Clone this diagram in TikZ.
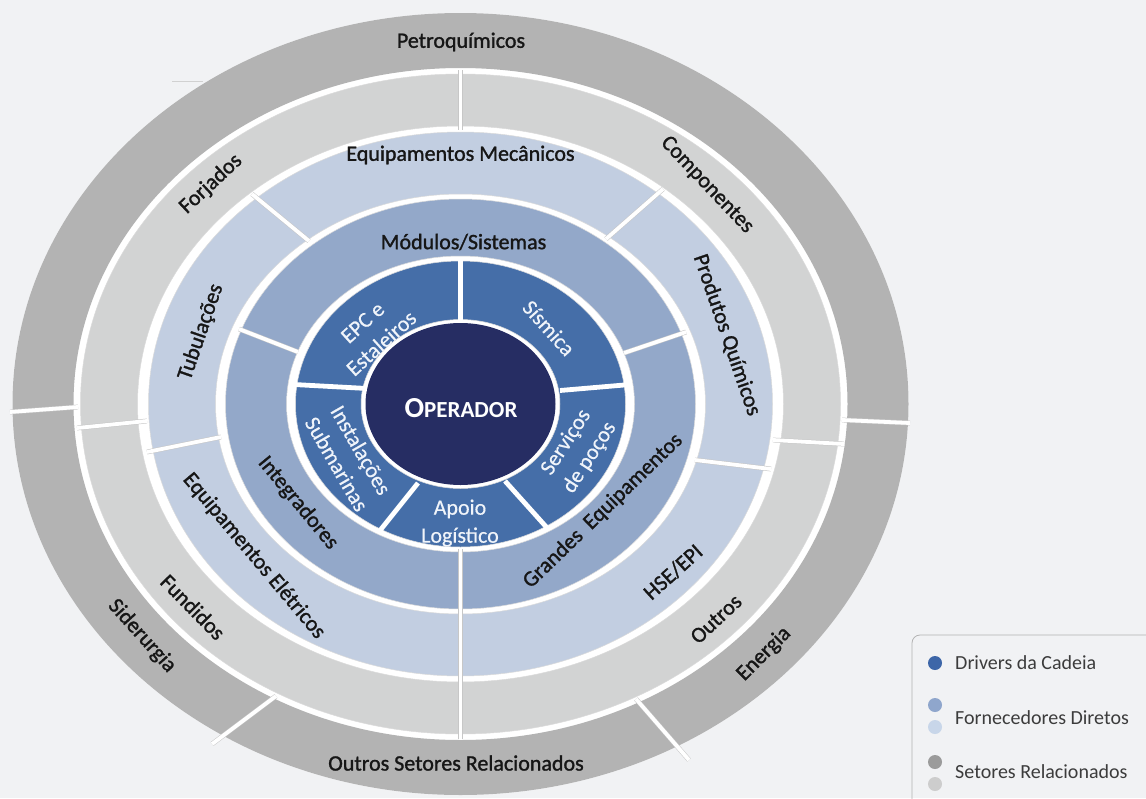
\documentclass[tikz,border=0pt]{standalone}
\usepackage{fontspec}
\setmainfont{Carlito}
\newfontfamily\lblfont[FakeBold=1.3]{Carlito}
\newfontfamily\wlblfont[FakeBold=0.4]{Carlito}
\definecolor{bg}{RGB}{241,242,244}
\definecolor{sdark}{RGB}{179,179,179}
\definecolor{slight}{RGB}{210,211,211}
\definecolor{flight}{RGB}{194,206,225}
\definecolor{fmed}{RGB}{147,168,201}
\definecolor{drv}{RGB}{69,110,168}
\definecolor{op}{RGB}{38,45,99}
\definecolor{txt}{RGB}{22,22,22}
\definecolor{wtxt}{RGB}{240,244,250}
\definecolor{legtxt}{RGB}{60,60,60}
\definecolor{ldrv}{RGB}{61,102,168}
\definecolor{lmed}{RGB}{143,166,204}
\definecolor{llight}{RGB}{200,214,233}
\definecolor{ldark}{RGB}{155,155,155}
\definecolor{lgray}{RGB}{205,205,205}
\begin{document}
\begin{tikzpicture}[x=1pt,y=-1pt,
  ringfill/.style={fill=#1, even odd rule},
  ringedge/.style={draw=black!14, line width=0.5pt},
  divider/.style={draw=black!22, line width=0.5pt, double=white, double distance=3.8pt},
  innerdiv/.style={draw=white, line width=4.8pt},
  lab/.style={font=\lblfont\fontsize{22}{25}\selectfont, text=txt, inner sep=0pt, align=center},
  wlab/.style={font=\wlblfont\fontsize{22}{28}\selectfont, text=wtxt, inner sep=0pt, align=center},
  leg/.style={font=\fontsize{20}{22}\selectfont, text=legtxt, anchor=west, inner sep=0pt},
  legdot/.style={circle, minimum size=14pt, inner sep=0pt, fill=#1}
]
\useasboundingbox (0,0) rectangle (1146,798);
\clip (0,0) rectangle (1146,798);
\fill[bg] (0,0) rectangle (1146,798);
\coordinate (C) at (460.5,404);
% white base
\fill[white] (C) ellipse [x radius=448pt, y radius=391pt];
% rings
\fill[ringfill=sdark] (C) ellipse [x radius=448pt, y radius=391pt] (C) ellipse [x radius=387pt, y radius=336pt];
\fill[ringfill=slight] (C) ellipse [x radius=380pt, y radius=330pt] (C) ellipse [x radius=323pt, y radius=278pt];
\fill[ringfill=flight] (C) ellipse [x radius=312pt, y radius=272pt] (C) ellipse [x radius=245pt, y radius=210pt];
\fill[ringfill=fmed] (C) ellipse [x radius=235pt, y radius=205pt] (C) ellipse [x radius=174pt, y radius=148pt];
\fill[ringfill=drv] (C) ellipse [x radius=165pt, y radius=143pt] (C) ellipse [x radius=99.5pt, y radius=84.5pt];
\fill[op] (C) ellipse [x radius=95pt, y radius=81pt];
% faint edges
\foreach \a/\b in {380/330,323/278,312/272,245/210,235/205,174/148,165/143,99.5/84.5}
  \draw[ringedge] (C) ellipse [x radius=\a pt, y radius=\b pt];
\draw[black!18, line width=0.6pt] (172,81) -- (203,81);
% dividers ring 1
\coordinate (d1a) at (10,412);   \coordinate (d1b) at (78,407);
\coordinate (d2a) at (842,420);  \coordinate (d2b) at (910,423);
\coordinate (d3a) at (636,699);  \coordinate (d3b) at (689,760);
\coordinate (d4a) at (212,744);  \coordinate (d4b) at (276,696);
\draw[divider] (d1a) -- (d1b);
\draw[divider] (d2a) -- (d2b);
\draw[divider] (d3a) -- (d3b);
\draw[divider] (d4a) -- (d4b);
% ring 2
\coordinate (e1a) at (460.5,70);  \coordinate (e1b) at (460.5,130);
\coordinate (e2a) at (460.5,679); \coordinate (e2b) at (460.5,739);
\coordinate (e3a) at (77,428);    \coordinate (e3b) at (147,421);
\coordinate (e4a) at (773,440);   \coordinate (e4b) at (844,444);
\draw[divider] (e1a) -- (e1b);
\draw[divider] (e2a) -- (e2b);
\draw[divider] (e3a) -- (e3b);
\draw[divider] (e4a) -- (e4b);
% ring 3
\coordinate (f1a) at (252,194);   \coordinate (f1b) at (309,241);
\coordinate (f2a) at (663,189);   \coordinate (f2b) at (606,239);
\coordinate (f3a) at (695,460);   \coordinate (f3b) at (771,469);
\coordinate (f4a) at (460.5,613); \coordinate (f4b) at (460.5,681);
\coordinate (f5a) at (147,452);   \coordinate (f5b) at (221,437);
\draw[divider] (f1a) -- (f1b);
\draw[divider] (f2a) -- (f2b);
\draw[divider] (f3a) -- (f3b);
\draw[divider] (f4a) -- (f4b);
\draw[divider] (f5a) -- (f5b);
% ring 4
\coordinate (g1a) at (239,329);   \coordinate (g1b) at (298,352);
\coordinate (g2a) at (624,353);   \coordinate (g2b) at (686,332);
\coordinate (g3a) at (460.5,549); \coordinate (g3b) at (460.5,617);
\draw[divider] (g1a) -- (g1b);
\draw[divider] (g2a) -- (g2b);
\draw[divider] (g3a) -- (g3b);
% ring 5
\coordinate (h1a) at (460.5,259); \coordinate (h1b) at (460.5,323);
\coordinate (h2a) at (294,384.5); \coordinate (h2b) at (367,388.5);
\coordinate (h3a) at (560,390.5); \coordinate (h3b) at (630,384.5);
\coordinate (h4a) at (418,483);   \coordinate (h4b) at (378,533);
\coordinate (h5a) at (505,481);   \coordinate (h5b) at (549,530);
\draw[innerdiv] (h1a) -- (h1b);
\draw[innerdiv] (h2a) -- (h2b);
\draw[innerdiv] (h3a) -- (h3b);
\draw[innerdiv] (h4a) -- (h4b);
\draw[innerdiv] (h5a) -- (h5b);
% labels ring 1
\node[lab] (petro) at (461,42) {Petroquímicos};
\node[lab] (outset) at (456,763) {Outros Setores Relacionados};
\node[lab, rotate=45] (energia) at (764,654) {Energia};
\node[lab, rotate=-48] (sider) at (142,636) {Siderurgia};
% ring 2
\node[lab, rotate=43] (forj) at (211,184) {Forjados};
\node[lab, rotate=-46.5] (comp) at (707,185) {Componentes};
\node[lab, rotate=43] (outros) at (716,619) {Outros};
\node[lab, rotate=-45.5] (fund) at (193,607) {Fundidos};
% ring 3
\node[lab] (eqmec) at (460.5,155) {Equipamentos Mecânicos};
\node[lab, rotate=-71] (prodq) at (727,335) {Produtos Químicos};
\node[lab, rotate=42] (hse) at (673,572) {HSE/EPI};
\node[lab, rotate=-50] (eqel) at (254,556) {Equipamentos Elétricos};
\node[lab, rotate=71] (tub) at (201,332) {Tubulações};
% ring 4
\node[lab] (mod) at (463.5,242) {Módulos/Sistemas};
\node[lab, rotate=-50.5] (integ) at (298,503) {Integradores};
\node[lab, rotate=44] (grandes) at (603,511) {Grandes\ \ Equipamentos};
% ring 5
\node[wlab, rotate=42] (epc) at (372,333) {EPC e\\Estaleiros};
\node[wlab, rotate=-48] (sism) at (549,328) {Sísmica};
\node[wlab, rotate=57] (serv) at (578,450) {Serviços\\de poços};
\node[wlab, rotate=-60] (inst) at (349,457) {Instalações\\Submarinas};
\node[wlab] (apoio) at (460,523) {Apoio\\Logístico};
% operator
\node[text=white, inner sep=0pt, font=\bfseries] (oper) at (461,408) {\fontsize{29}{30}\selectfont O\fontsize{23}{30}\selectfont PERADOR};
% legend
\draw[black!30, line width=0.8pt, rounded corners=8pt] (912,635) rectangle (1170,830);
\node[legdot=ldrv] (ld1) at (935,663) {};
\node[legdot=lmed] (ld2) at (935,705) {};
\node[legdot=llight] (ld3) at (935,727) {};
\node[legdot=ldark] (ld4) at (935,762) {};
\node[legdot=lgray] (ld5) at (935,784) {};
\node[leg] (lt1) at (955,663) {Drivers da Cadeia};
\node[leg] (lt2) at (955,718) {Fornecedores Diretos};
\node[leg] (lt3) at (955,772) {Setores Relacionados};
\end{tikzpicture}
\end{document}
